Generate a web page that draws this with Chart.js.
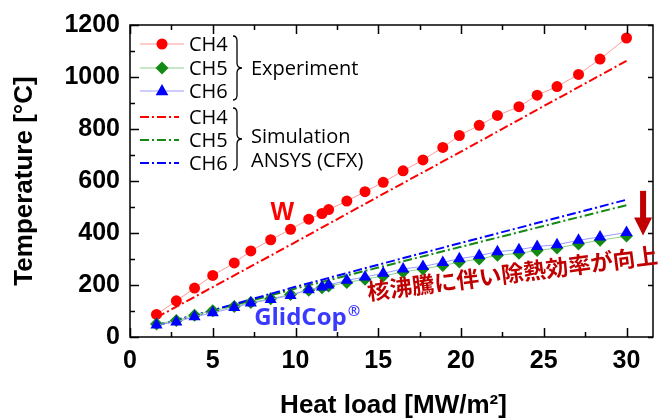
<!DOCTYPE html>
<html>
<head>
<meta charset="utf-8">
<script src="https://cdn.jsdelivr.net/npm/chart.js@4.4.1/dist/chart.umd.min.js"></script>
<style>
  html, body { margin: 0; padding: 0; background: #fff; }
  canvas { display: block; }
</style>
</head>
<body>
<canvas id="chart" width="660" height="418"></canvas>
<script>
// heat load steps of the experiment [MW/m2]
const heatLoad = [1.6, 2.8, 3.9, 5.0, 6.3, 7.3, 8.5, 9.7, 10.8, 11.6, 12.0, 13.1, 14.2,
  15.3, 16.5, 17.7, 18.9, 19.9, 21.1, 22.2, 23.5, 24.6, 25.8, 27.1, 28.4, 30.0];
const ch4Exp = [87, 139, 188, 237, 285, 331, 374, 414, 453, 475, 490, 523, 559,
  595, 639, 681, 729, 775, 814, 852, 886, 930, 963, 1010, 1069, 1150];
const ch5Exp = [50, 63, 84, 101, 117, 133, 147, 163, 180, 189, 196, 210, 222,
  235, 250, 262, 275, 288, 300, 314, 322, 333, 342, 358, 372, 388];
const ch6Exp = [46, 58, 78, 93, 113, 131, 144, 160, 182, 192, 200, 218, 231,
  245, 262, 271, 287, 301, 313, 328, 336, 348, 355, 372, 385, 402];

// ANSYS (CFX) results
const simLoad = [1.6, 5, 10, 15, 20, 25, 30];
const ch4Sim = [75, 192, 365, 540, 713, 888, 1062];
const ch5Sim = [45, 100, 186, 267, 347, 427, 507];
const ch6Sim = [45, 103, 193, 278, 362, 445, 528];

const xTicks = [0, 5, 10, 15, 20, 25, 30];
const xMinorTicks = [2.5, 7.5, 12.5, 17.5, 22.5, 27.5];
const yTicks = [0, 200, 400, 600, 800, 1000, 1200];
const yMinorTicks = [100, 300, 500, 700, 900, 1100];

const RED = '#ff0000';
const GREEN = '#138a13';
const BLUE = '#0000ff';
const DARK_RED = '#c00000';
const SIM_DASH = [9, 3, 2, 3];
const TICK_FONT = { family: '"Liberation Sans", Arial, sans-serif', size: 25, weight: 'bold' };

const pts = (xs, ys) => xs.map((x, i) => ({ x, y: ys[i] }));

function drawMarker(ctx, style, x, y, r, color) {
  ctx.fillStyle = color;
  ctx.beginPath();
  if (style === 'circle') {
    ctx.arc(x, y, r, 0, Math.PI * 2);
  } else if (style === 'rectRot') {
    ctx.moveTo(x, y - r); ctx.lineTo(x + r, y); ctx.lineTo(x, y + r); ctx.lineTo(x - r, y);
  } else {
    ctx.moveTo(x, y - r); ctx.lineTo(x + r * 0.9, y + r * 0.6); ctx.lineTo(x - r * 0.9, y + r * 0.6);
  }
  ctx.closePath();
  ctx.fill();
}

function brace(ctx, x, top, bottom) {
  const mid = (top + bottom) / 2;
  ctx.beginPath();
  ctx.moveTo(x - 4, top);
  ctx.quadraticCurveTo(x, top, x, top + 5);
  ctx.lineTo(x, mid - 5);
  ctx.quadraticCurveTo(x, mid, x + 5, mid);
  ctx.quadraticCurveTo(x, mid, x, mid + 5);
  ctx.lineTo(x, bottom - 5);
  ctx.quadraticCurveTo(x, bottom, x - 4, bottom);
  ctx.stroke();
}

// frame with inward ticks on all four sides
const frameTicks = {
  id: 'frameTicks',
  afterDraw(chart) {
    const { ctx, chartArea: a, scales: { x, y } } = chart;
    ctx.save();
    ctx.strokeStyle = '#000';
    ctx.lineWidth = 1.5;
    ctx.strokeRect(a.left, a.top, a.right - a.left, a.bottom - a.top);
    ctx.beginPath();
    xTicks.concat(xMinorTicks).forEach(v => {
      const px = Math.round(x.getPixelForValue(v)) + 0.5;
      const len = xTicks.includes(v) ? 9 : 5;
      ctx.moveTo(px, a.bottom); ctx.lineTo(px, a.bottom - len);
      ctx.moveTo(px, a.top); ctx.lineTo(px, a.top + len);
    });
    yTicks.concat(yMinorTicks).forEach(v => {
      const py = Math.round(y.getPixelForValue(v)) + 0.5;
      const len = yTicks.includes(v) ? 9 : 5;
      ctx.moveTo(a.left, py); ctx.lineTo(a.left + len, py);
      if (yTicks.includes(v)) { ctx.moveTo(a.right, py); ctx.lineTo(a.right - 5, py); }
    });
    ctx.stroke();
    ctx.restore();
  }
};

// axis titles, legend and annotations
const overlay = {
  id: 'overlay',
  afterDraw(chart) {
    const { ctx, chartArea: a, scales: { x, y } } = chart;
    ctx.save();
    ctx.fillStyle = '#000';
    ctx.font = 'bold 26px "Liberation Sans", Arial, sans-serif';
    ctx.textAlign = 'center';
    ctx.textBaseline = 'middle';
    ctx.save();
    ctx.translate(25, (a.top + a.bottom) / 2);
    ctx.rotate(-Math.PI / 2);
    ctx.fillText('Temperature [°C]', 0, 0);
    ctx.restore();
    ctx.textBaseline = 'alphabetic';
    ctx.fillText('Heat load [MW/m²]', (a.left + a.right) / 2 + 2, 413);

    // legend
    const rows = [
      { label: 'CH4', color: RED, line: '#ff9a9a', marker: 'circle', r: 5.5 },
      { label: 'CH5', color: GREEN, line: '#8fcf8f', marker: 'rectRot', r: 6.5 },
      { label: 'CH6', color: BLUE, line: '#9a9aff', marker: 'triangle', r: 7 },
      { label: 'CH4', color: RED },
      { label: 'CH5', color: GREEN },
      { label: 'CH6', color: BLUE }
    ];
    const rowY = [44, 68, 91, 117, 140, 163];
    ctx.font = '20px "Open Sans", "Noto Sans", sans-serif';
    ctx.textAlign = 'left';
    ctx.textBaseline = 'middle';
    rows.forEach((r, i) => {
      const ry = rowY[i];
      ctx.strokeStyle = r.line || r.color;
      ctx.lineWidth = r.marker ? 1 : 2;
      ctx.setLineDash(r.marker ? [] : SIM_DASH);
      ctx.beginPath();
      ctx.moveTo(140, ry); ctx.lineTo(r.marker ? 184 : 179, ry);
      ctx.stroke();
      ctx.setLineDash([]);
      if (r.marker) drawMarker(ctx, r.marker, 162, ry, r.r, r.color);
      ctx.fillStyle = '#000';
      ctx.fillText(r.label, 189, ry + 1);
    });
    ctx.strokeStyle = '#000';
    ctx.lineWidth = 1.3;
    brace(ctx, 237, 36, 100);
    brace(ctx, 237, 108, 170);
    ctx.fillStyle = '#000';
    ctx.fillText('Experiment', 251, 69);
    ctx.fillText('Simulation', 251, 137);
    ctx.fillText('ANSYS (CFX)', 251, 161);

    // material labels
    ctx.font = 'bold 25px "Liberation Sans", Arial, sans-serif';
    ctx.fillStyle = RED;
    ctx.textAlign = 'center';
    ctx.fillText('W', x.getPixelForValue(9.2), y.getPixelForValue(478));
    ctx.font = 'bold 24px "Open Sans", "Liberation Sans", sans-serif';
    ctx.fillStyle = '#3a3aff';
    ctx.textAlign = 'left';
    ctx.textBaseline = 'alphabetic';
    const gx = x.getPixelForValue(7.5);
    const gy = y.getPixelForValue(46);
    ctx.fillText('GlidCop', gx, gy);
    const gw = ctx.measureText('GlidCop').width;
    ctx.font = 'bold 15px "Open Sans", "Liberation Sans", sans-serif';
    ctx.fillText('®', gx + gw + 1, gy - 9);

    // boiling note, tilted along the lower curves
    ctx.save();
    ctx.translate(x.getPixelForValue(14.4), y.getPixelForValue(141));
    ctx.rotate(-7.3 * Math.PI / 180);
    ctx.font = 'bold 22.5px "Noto Sans CJK JP", sans-serif';
    ctx.fillStyle = DARK_RED;
    ctx.fillText('核沸騰に伴い除熱効率が向上', 0, 0);
    ctx.restore();

    // downward arrow
    const ax = x.getPixelForValue(31.0);
    const aTop = y.getPixelForValue(562);
    const aTip = y.getPixelForValue(390);
    ctx.fillStyle = DARK_RED;
    ctx.fillRect(ax - 3, aTop, 6, aTip - aTop - 16);
    ctx.beginPath();
    ctx.moveTo(ax - 9, aTip - 18);
    ctx.lineTo(ax + 9, aTip - 18);
    ctx.lineTo(ax, aTip);
    ctx.closePath();
    ctx.fill();
    ctx.restore();
  }
};

const simSet = (ys, color, order) => ({
  data: pts(simLoad, ys),
  borderColor: color,
  borderWidth: 2,
  borderDash: SIM_DASH,
  pointRadius: 0,
  fill: false,
  order
});

new Chart(document.getElementById('chart'), {
  type: 'line',
  data: {
    datasets: [
      {
        label: 'CH4', data: pts(heatLoad, ch4Exp),
        borderColor: '#ff9a9a', borderWidth: 1,
        pointStyle: 'circle', pointRadius: 5.5,
        pointBackgroundColor: RED, pointBorderWidth: 0, order: 3
      },
      {
        label: 'CH5', data: pts(heatLoad, ch5Exp),
        borderColor: '#8fcf8f', borderWidth: 1,
        pointStyle: 'rectRot', pointRadius: 6.5,
        pointBackgroundColor: GREEN, pointBorderWidth: 0, order: 2
      },
      {
        label: 'CH6', data: pts(heatLoad, ch6Exp),
        borderColor: '#9a9aff', borderWidth: 1,
        pointStyle: 'triangle', pointRadius: 7,
        pointBackgroundColor: BLUE, pointBorderWidth: 0, order: 1
      },
      simSet(ch4Sim, RED, 4),
      simSet(ch5Sim, GREEN, 5),
      simSet(ch6Sim, BLUE, 4)
    ]
  },
  options: {
    responsive: false,
    animation: false,
    layout: { padding: { top: 23, right: 1, left: 0, bottom: 0 } },
    plugins: { legend: { display: false }, tooltip: { enabled: false } },
    scales: {
      x: {
        type: 'linear', min: 0, max: 31.6,
        grid: { display: false, drawTicks: false },
        border: { display: false },
        afterFit: s => { s.height = 81; },
        afterBuildTicks: s => { s.ticks = xTicks.map(v => ({ value: v })); },
        ticks: { font: TICK_FONT, color: '#000', padding: 9, maxRotation: 0, callback: v => String(v) }
      },
      y: {
        type: 'linear', min: 0, max: 1200,
        grid: { display: false, drawTicks: false },
        border: { display: false },
        afterFit: s => { s.width = 130; },
        afterBuildTicks: s => { s.ticks = yTicks.map(v => ({ value: v })); },
        ticks: { font: TICK_FONT, color: '#000', padding: 10, callback: v => String(v) }
      }
    }
  },
  plugins: [frameTicks, overlay]
});
</script>
</body>
</html>
